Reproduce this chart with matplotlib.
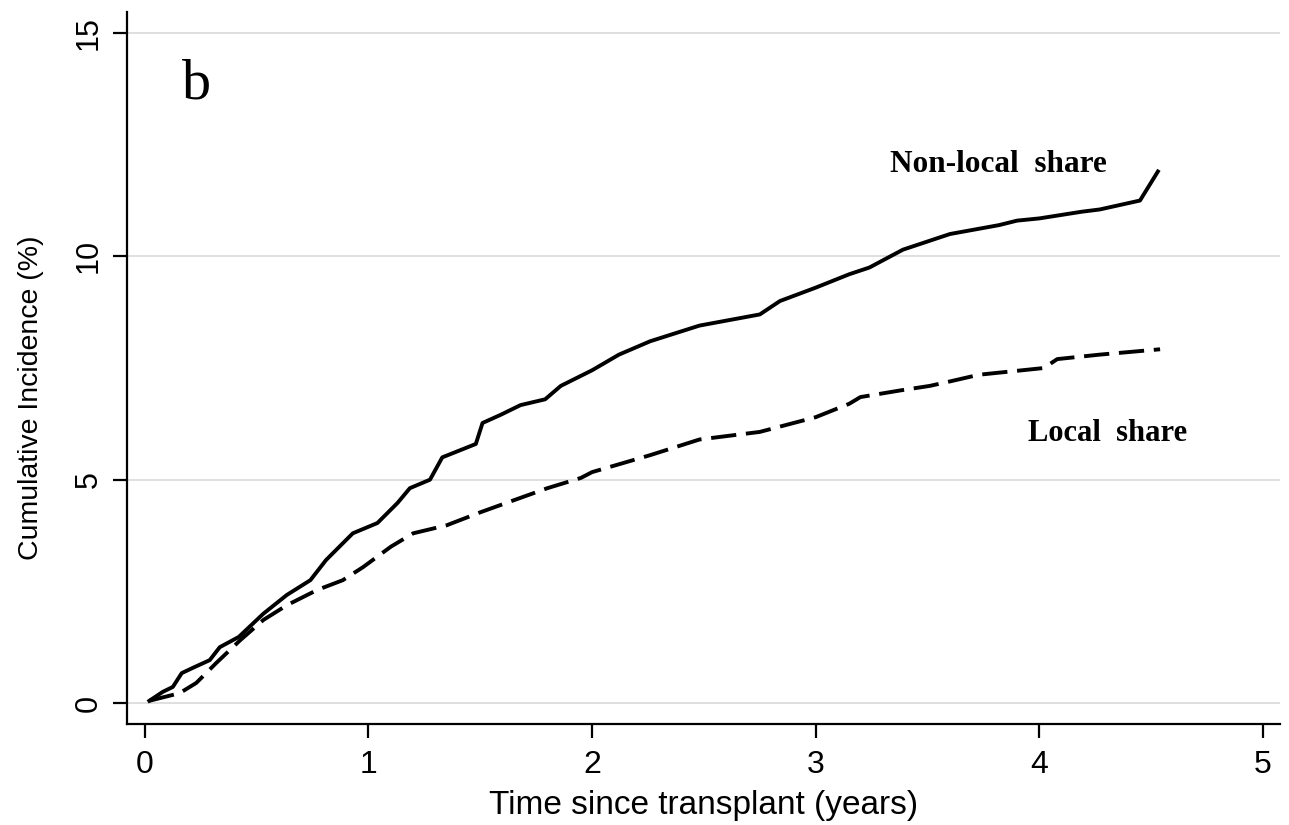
import matplotlib.pyplot as plt

# (years, %)
nonlocal_t = [0.02, 0.08, 0.125, 0.165, 0.22, 0.29, 0.335, 0.42, 0.53, 0.635, 0.74, 0.81,
              0.93, 1.04, 1.13, 1.185, 1.275, 1.33, 1.48, 1.51, 1.59, 1.68, 1.79, 1.86,
              2.0, 2.12, 2.26, 2.48, 2.75, 2.84, 3.0, 3.15, 3.24, 3.39, 3.51, 3.6,
              3.82, 3.9, 4.0, 4.19, 4.27, 4.45, 4.53]
nonlocal_v = [0.05, 0.25, 0.36, 0.67, 0.8, 0.96, 1.25, 1.48, 2.0, 2.42, 2.75, 3.2,
              3.8, 4.03, 4.48, 4.81, 5.0, 5.5, 5.8, 6.27, 6.45, 6.67, 6.8, 7.1,
              7.45, 7.8, 8.1, 8.45, 8.7, 9.0, 9.3, 9.6, 9.75, 10.15, 10.35, 10.5,
              10.7, 10.8, 10.85, 11.0, 11.05, 11.25, 11.9]

local_t = [0.02, 0.155, 0.23, 0.32, 0.425, 0.53, 0.635, 0.77, 0.885, 0.975, 1.1, 1.2,
           1.35, 1.5, 1.65, 1.8, 1.95, 2.0, 2.26, 2.48, 2.75, 3.0, 3.15, 3.2, 3.38,
           3.51, 3.6, 3.73, 4.02, 4.08, 4.27, 4.54]
local_v = [0.05, 0.22, 0.45, 0.9, 1.4, 1.86, 2.19, 2.53, 2.75, 3.04, 3.5, 3.8,
           3.98, 4.27, 4.54, 4.81, 5.04, 5.17, 5.55, 5.9, 6.07, 6.4, 6.7, 6.85, 7.0,
           7.1, 7.2, 7.35, 7.5, 7.7, 7.8, 7.92]

x_ticks = [0, 1, 2, 3, 4, 5]
y_ticks = [0, 5, 10, 15]

fig = plt.figure(figsize=(12.89, 8.25), dpi=100)
ax = fig.add_axes([0.0985, 0.1224, 0.8945, 0.863])

for y in y_ticks:
    ax.axhline(y, color='#d9d9d9', linewidth=1.2, zorder=0)

ax.plot(nonlocal_t, nonlocal_v, color='black', linewidth=2.8)
ax.plot(local_t, local_v, color='black', linewidth=2.8, dashes=(6.5, 2.5))

ax.set_xlim(-0.08, 5.076)
ax.set_ylim(-0.47, 15.47)
ax.set_xticks(x_ticks)
ax.set_yticks(y_ticks)
ax.spines['top'].set_visible(False)
ax.spines['right'].set_visible(False)
ax.spines['left'].set_linewidth(1.6)
ax.spines['bottom'].set_linewidth(1.6)
ax.tick_params(axis='both', direction='out', length=10, width=1.6, pad=8)
ax.tick_params(axis='x', labelsize=23, pad=9)
ax.tick_params(axis='y', labelsize=22, pad=7)
for lab in ax.get_yticklabels():
    lab.set_rotation(90)
    lab.set_verticalalignment('center')
for lab in ax.get_xticklabels() + ax.get_yticklabels():
    lab.set_family('Liberation Sans')

ax.set_xlabel('Time since transplant (years)', fontsize=24, family='Liberation Sans', labelpad=7)
ax.set_ylabel('Cumulative Incidence (%)', fontsize=20.5, family='Liberation Sans')
ax.yaxis.set_label_coords(-0.072, 0.458)

ax.text(0.23, 13.85, 'b', fontsize=42, family='Liberation Serif', va='center', ha='center')
ax.text(3.815, 12.05, 'Non-local  share', fontsize=22.5, family='Liberation Serif',
        fontweight='bold', va='center', ha='center')
ax.text(4.305, 6.04, 'Local  share', fontsize=22, family='Liberation Serif',
        fontweight='bold', va='center', ha='center')

fig.savefig('out.png', dpi=100)
plt.close()
